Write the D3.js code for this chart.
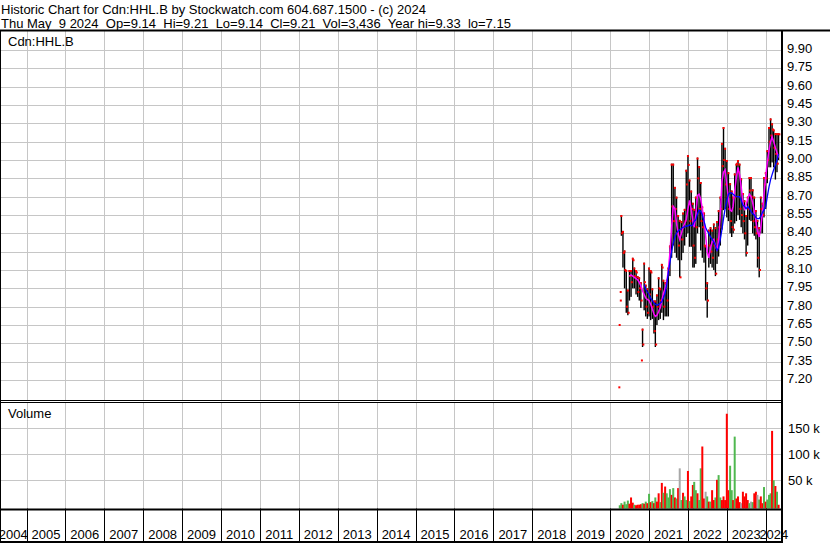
<!DOCTYPE html>
<html><head><meta charset="utf-8">
<script src="https://cdn.jsdelivr.net/npm/d3@7"></script>
<style>body{margin:0;background:#fff}svg{display:block;font-family:"Liberation Sans",Arial,sans-serif}</style>
</head><body><svg id="c" width="830" height="543"></svg>
<script>
const titleLine1 = "Historic Chart for Cdn:HHL.B by Stockwatch.com 604.687.1500 - (c) 2024";
const titleLine2 = "Thu May  9 2024  Op=9.14  Hi=9.21  Lo=9.14  Cl=9.21  Vol=3,436  Year hi=9.33  lo=7.15";
const symbolLabel = "Cdn:HHL.B";
const volumeLabel = "Volume";
const yearLabels = [2004,2005,2006,2007,2008,2009,2010,2011,2012,2013,2014,2015,2016,2017,2018,2019,2020,2021,2022,2023,2024];
const priceTicks = [9.90,9.75,9.60,9.45,9.30,9.15,9.00,8.85,8.70,8.55,8.40,8.25,8.10,7.95,7.80,7.65,7.50,7.35,7.20];
const volumeTicks = [50000,100000,150000];

const dates = [
"2020-04-01","2020-04-16","2020-05-01","2020-05-16","2020-06-01","2020-06-16","2020-07-01","2020-07-16","2020-08-01","2020-08-16",
"2020-09-01","2020-09-16","2020-10-01","2020-10-16","2020-11-01","2020-11-16","2020-12-01","2020-12-16","2021-01-01","2021-01-16",
"2021-02-01","2021-02-16","2021-03-01","2021-03-16","2021-04-01","2021-04-16","2021-05-01","2021-05-16","2021-06-01","2021-06-16",
"2021-07-01","2021-07-16","2021-08-01","2021-08-16","2021-09-01","2021-09-16","2021-10-01","2021-10-16","2021-11-01","2021-11-16",
"2021-12-01","2021-12-16","2022-01-01","2022-01-16","2022-02-01","2022-02-16","2022-03-01","2022-03-16","2022-04-01","2022-04-16",
"2022-05-01","2022-05-16","2022-06-01","2022-06-16","2022-07-01","2022-07-16","2022-08-01","2022-08-16","2022-09-01","2022-09-16",
"2022-10-01","2022-10-16","2022-11-01","2022-11-16","2022-12-01","2022-12-16","2023-01-01","2023-01-16","2023-02-01","2023-02-16",
"2023-03-01","2023-03-16","2023-04-01","2023-04-16","2023-05-01","2023-05-16","2023-06-01","2023-06-16","2023-07-01","2023-07-16",
"2023-08-01","2023-08-16","2023-09-01","2023-09-16","2023-10-01","2023-10-16","2023-11-01","2023-11-16","2023-12-01","2023-12-16",
"2024-01-01","2024-01-16","2024-02-01","2024-02-16","2024-03-01","2024-03-16","2024-04-01","2024-04-16","2024-05-01"];

const highs = [
null,8.55,8.42,8.26,8.10,7.94,8.10,8.10,8.20,8.12,
8.10,8.05,8.04,8.00,7.62,8.16,7.98,7.95,8.12,8.10,
7.95,7.85,7.85,7.90,8.04,7.95,8.15,8.02,8.00,8.02,
8.12,8.30,8.97,8.97,8.78,8.70,8.55,8.51,8.50,8.57,
8.60,8.92,9.04,8.84,8.75,8.65,8.60,8.70,9.02,8.95,
8.82,8.62,8.57,8.30,8.00,8.43,8.45,8.43,8.48,8.45,
8.50,8.59,8.70,9.14,9.27,9.10,9.00,8.90,8.81,8.75,
8.70,8.89,8.97,9.00,8.97,8.85,8.73,8.67,8.55,8.70,
8.86,8.86,8.76,8.70,8.59,8.51,8.45,8.70,8.65,8.86,
8.90,9.08,9.27,9.34,9.30,9.25,9.22,9.22,9.22];
const lows = [
null,8.38,8.12,7.95,7.75,7.73,7.85,7.88,7.95,7.95,
7.90,7.88,7.85,7.79,7.47,7.77,7.72,7.70,7.72,7.69,
7.70,7.58,7.47,7.65,7.69,7.70,7.75,7.69,7.72,7.72,
7.72,8.05,8.20,8.30,8.24,8.20,8.18,8.04,8.18,8.24,
8.30,8.37,8.40,8.29,8.29,8.12,8.12,8.15,8.40,8.45,
8.26,8.20,8.16,7.85,7.71,8.12,8.15,8.12,8.10,8.05,
8.15,8.21,8.30,8.43,8.59,8.60,8.53,8.50,8.40,8.37,
8.40,8.48,8.50,8.55,8.51,8.45,8.40,8.35,8.21,8.30,
8.51,8.50,8.40,8.38,8.35,8.12,8.04,8.40,8.40,8.53,
8.60,8.81,8.94,8.94,8.98,8.94,8.84,8.90,9.00];
const closes = [
null,8.40,8.24,8.10,7.80,7.75,8.05,8.00,8.18,8.05,
8.08,7.92,7.95,7.85,7.49,8.00,7.80,7.75,7.90,8.08,
7.80,7.60,7.49,7.80,7.95,7.85,8.12,7.80,7.95,7.85,
8.10,8.25,8.62,8.50,8.60,8.40,8.30,8.04,8.35,8.45,
8.50,8.80,8.96,8.50,8.60,8.30,8.20,8.45,8.85,8.60,
8.50,8.45,8.30,7.95,7.85,8.30,8.25,8.20,8.30,8.07,
8.35,8.45,8.60,8.95,9.00,8.80,8.70,8.60,8.50,8.45,
8.43,8.70,8.97,8.90,8.60,8.55,8.50,8.40,8.24,8.60,
8.75,8.70,8.50,8.45,8.40,8.20,8.10,8.60,8.55,8.80,
8.85,9.00,9.15,9.20,9.25,9.10,9.05,8.97,9.21];
const maFast = [
null,null,null,null,null,null,8.05,8.06,8.05,8.04,
8.03,8.02,8.00,7.97,7.93,7.90,7.87,7.86,7.85,7.82,
7.78,7.74,7.72,7.73,7.76,7.79,7.85,7.91,7.95,8.00,
8.10,8.24,8.45,8.62,8.60,8.48,8.40,8.35,8.40,8.45,
8.48,8.51,8.60,8.67,8.60,8.50,8.45,8.55,8.71,8.72,
8.68,8.60,8.51,8.38,8.25,8.20,8.28,8.33,8.35,8.30,
8.26,8.35,8.55,8.82,8.90,8.92,8.80,8.68,8.59,8.58,
8.62,8.75,8.86,8.94,8.88,8.78,8.65,8.60,8.63,8.68,
8.72,8.70,8.65,8.58,8.50,8.42,8.37,8.45,8.56,8.72,
8.86,8.98,9.08,9.15,9.19,9.15,9.10,9.06,9.02];
const maSlow = [
null,null,null,null,null,null,null,null,null,null,
null,null,null,null,null,7.98,7.94,7.92,7.90,7.87,
7.85,7.83,7.82,7.81,7.82,7.83,7.84,7.87,7.91,7.98,
8.08,8.16,8.25,8.32,8.37,8.40,8.42,8.43,8.44,8.45,
8.45,8.46,8.46,8.47,8.46,8.47,8.50,8.51,8.56,8.59,
8.58,8.55,8.50,8.45,8.42,8.40,8.37,8.35,8.33,8.30,
8.26,8.28,8.35,8.43,8.52,8.60,8.67,8.72,8.73,8.73,
8.72,8.71,8.70,8.70,8.70,8.67,8.63,8.62,8.60,8.62,
8.60,8.58,8.56,8.55,8.53,8.52,8.52,8.54,8.57,8.59,
8.62,8.70,8.78,8.84,8.88,8.92,8.96,9.00,9.05];
const volumes = [
2000,6000,3000,9000,4000,11000,5000,17000,7000,3000,
2000,3000,3000,4000,6000,5000,9000,6000,24000,8000,
10000,6000,17000,9000,25000,8000,45000,26000,38000,25000,
17000,33000,22000,35000,17000,15000,35000,73000,12000,26000,
19000,12000,68000,10000,19000,41000,47000,31000,25000,12000,
73000,115000,15000,28000,19000,9000,9000,31000,12000,17000,
51000,60000,17000,12000,19000,12000,178000,31000,78000,31000,
12000,134000,15000,19000,8000,6000,28000,19000,25000,12000,
6000,9000,8000,25000,28000,22000,13000,19000,6000,37000,
9000,13000,22000,25000,145000,50000,39000,28000,3000];
const volDir = [
"g","g","r","g","g","g","r","r","r","g",
"r","r","r","r","g","r","g","r","g","r",
"g","r","g","r","r","g","r","g","r","g",
"g","g","r","g","r","g","r","n","g","r",
"g","g","r","g","r","r","g","g","r","g",
"g","r","r","n","g","r","g","r","r","g",
"r","g","g","r","r","r","r","r","g","g",
"r","g","r","r","r","n","r","r","r","r",
"g","n","g","r","r","n","g","r","r","g",
"r","g","g","g","r","g","r","g","r"];
const extraDotDates = ["2020-03-28","2020-03-31","2020-04-10","2020-04-11","2020-10-26"];
const extraDotValues = [7.14,7.65,7.92,7.85,7.36];

const parse = d3.timeParse("%Y-%m-%d");
const svg = d3.select("#c");
const W = 830, H = 543;
const left = 0.5, right = 782;
const pTop = 31, pBot = 400.5, vTop = 402.5, vBot = 508.5, sBot = 541.5;
const grid = "#c6c6c6";
const font = '"Liberation Sans", Arial, sans-serif';

const x = d3.scaleTime().domain([new Date(2005,0,1), new Date(2024,0,1)]).range([26.5, 765.7]);
const y = d3.scaleLinear().domain([7.20, 9.90]).range([380, 50]);
const yv = d3.scaleLinear().domain([0, 150000]).range([506.3, 428.3]);

svg.append("rect").attr("width", W).attr("height", H).attr("fill", "#fff");

// header
svg.append("text").attr("x", 1).attr("y", 14).attr("font-size", 13).attr("font-family", font).text(titleLine1);
svg.append("text").attr("x", 1).attr("y", 27.5).attr("font-size", 13).attr("font-family", font)
  .style("white-space", "pre").text(titleLine2);

const yearStarts = yearLabels.slice(1).map(yr => new Date(yr, 0, 1));

// price grid
const gP = svg.append("g");
gP.selectAll("line.h").data(priceTicks).join("line")
  .attr("x1", left).attr("x2", right).attr("y1", d => Math.round(y(d)) + 0.5).attr("y2", d => Math.round(y(d)) + 0.5)
  .attr("stroke", grid);
gP.selectAll("line.v").data(yearStarts).join("line")
  .attr("x1", d => Math.round(x(d)) + 0.5).attr("x2", d => Math.round(x(d)) + 0.5)
  .attr("y1", pTop).attr("y2", pBot).attr("stroke", grid);

// volume grid
const gV = svg.append("g");
gV.selectAll("line.h").data(volumeTicks).join("line")
  .attr("x1", left).attr("x2", right).attr("y1", d => Math.round(yv(d)) + 0.5).attr("y2", d => Math.round(yv(d)) + 0.5)
  .attr("stroke", grid);
gV.selectAll("line.v").data(yearStarts).join("line")
  .attr("x1", d => Math.round(x(d)) + 0.5).attr("x2", d => Math.round(x(d)) + 0.5)
  .attr("y1", vTop).attr("y2", vBot).attr("stroke", grid);

// labels inside panels
svg.append("text").attr("x", 8).attr("y", 46).attr("font-size", 13).attr("font-family", font).text(symbolLabel);
svg.append("text").attr("x", 8).attr("y", 418).attr("font-size", 13).attr("font-family", font).text(volumeLabel);

// price data
const rows = dates.map((d, i) => ({date: parse(d), hi: highs[i], lo: lows[i], cl: closes[i], f: maFast[i], s: maSlow[i], v: volumes[i], dir: volDir[i]}));
const bars = rows.filter(r => r.hi != null);
svg.append("g").selectAll("rect").data(bars).join("rect")
  .attr("x", r => x(r.date) - 0.7).attr("width", 1.4)
  .attr("y", r => y(r.hi)).attr("height", r => Math.max(1, y(r.lo) - y(r.hi)))
  .attr("fill", "#000");
svg.append("g").selectAll("rect").data(bars).join("rect")
  .attr("x", r => x(r.date) - 0.2).attr("width", 2)
  .attr("y", r => y(r.cl) - 1).attr("height", 2).attr("fill", "#ff0000");
svg.append("g").selectAll("rect").data(bars).join("rect")
  .attr("x", r => x(r.date) - 1).attr("width", 2)
  .attr("y", r => y(r.hi)).attr("height", 2).attr("fill", "#ff0000");
svg.append("g").selectAll("rect").data(extraDotDates.map((d, i) => ({date: parse(d), v: extraDotValues[i]}))).join("rect")
  .attr("x", r => x(r.date) - 1).attr("width", 2)
  .attr("y", r => y(r.v) - 1).attr("height", 2).attr("fill", "#ff0000");

const lineF = d3.line().defined(r => r.f != null).x(r => x(r.date)).y(r => y(r.f));
const lineS = d3.line().defined(r => r.s != null).x(r => x(r.date)).y(r => y(r.s));
svg.append("path").datum(rows).attr("d", lineF).attr("fill", "none").attr("stroke", "#ff00ff").attr("stroke-width", 1.5);
svg.append("path").datum(rows).attr("d", lineS).attr("fill", "none").attr("stroke", "#0000ff").attr("stroke-width", 1.3);

// volume bars
const volColor = {r: "#ff0000", g: "#50b850", n: "#a8a8a8"};
svg.append("g").selectAll("rect").data(rows).join("rect")
  .attr("x", r => x(r.date) - 1).attr("width", 2)
  .attr("y", r => yv(r.v)).attr("height", r => vBot - yv(r.v))
  .attr("fill", r => volColor[r.dir]);

// axes on right
const axP = svg.append("g").attr("transform", `translate(${right},0)`)
  .call(d3.axisRight(y).tickValues(priceTicks).tickFormat(d3.format(".2f")).tickSize(0).tickPadding(5));
axP.select(".domain").remove();
axP.selectAll("text").attr("font-size", 13).attr("font-family", font).attr("fill", "#000").attr("dy", "0.2em");
const axV = svg.append("g").attr("transform", `translate(${right},0)`)
  .call(d3.axisRight(yv).tickValues(volumeTicks).tickFormat(d => (d / 1000) + " k").tickSize(0).tickPadding(6));
axV.select(".domain").remove();
axV.selectAll("text").attr("font-size", 13).attr("font-family", font).attr("fill", "#000").attr("dy", "0.35em");

// bottom strip year separators and labels
svg.append("g").selectAll("line").data(yearStarts).join("line")
  .attr("x1", d => Math.round(x(d)) + 0.5).attr("x2", d => Math.round(x(d)) + 0.5)
  .attr("y1", vBot).attr("y2", sBot).attr("stroke", "#000");
svg.append("g").selectAll("text").data(yearLabels).join("text")
  .attr("x", yr => {
    const a = Math.max(x(new Date(yr, 0, 1)), 0), b = Math.min(x(new Date(yr + 1, 0, 1)), right);
    return (a + b) / 2;
  })
  .attr("y", 539).attr("text-anchor", "middle").attr("font-size", 13).attr("font-family", font).text(d => d);

// frames
const k = "#000";
svg.append("rect").attr("x", 0).attr("y", 29.5).attr("width", W).attr("height", 2).attr("fill", k);
svg.append("line").attr("x1", 0.5).attr("x2", 0.5).attr("y1", 30).attr("y2", H).attr("stroke", k);
svg.append("rect").attr("x", right - 1).attr("y", 30).attr("width", 2).attr("height", H - 30).attr("fill", k);
svg.append("line").attr("x1", 0).attr("x2", right).attr("y1", pBot).attr("y2", pBot).attr("stroke", k);
svg.append("line").attr("x1", 0).attr("x2", right).attr("y1", vTop).attr("y2", vTop).attr("stroke", k);
svg.append("rect").attr("x", 0).attr("y", vBot).attr("width", right).attr("height", 2).attr("fill", k);
svg.append("rect").attr("x", 0).attr("y", 541).attr("width", right + 1).attr("height", 2).attr("fill", k);
</script></body></html>
